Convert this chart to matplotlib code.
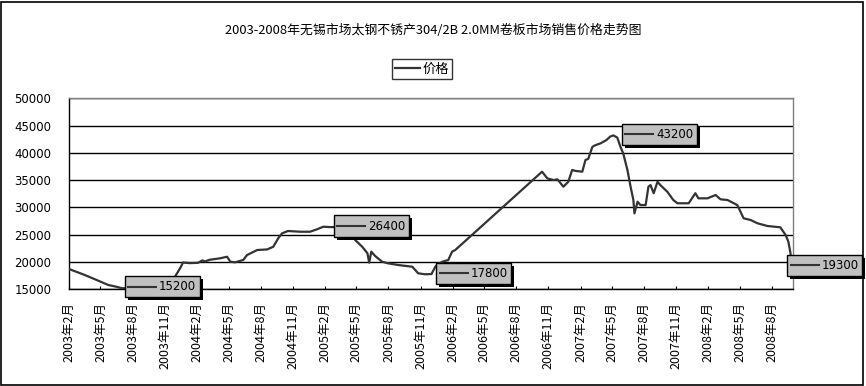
import matplotlib
matplotlib.use("Agg")
import matplotlib.pyplot as plt
import matplotlib.patheffects as pe
from matplotlib.lines import Line2D
from matplotlib.patches import Rectangle
from matplotlib.offsetbox import AnnotationBbox, HPacker, DrawingArea, TextArea
import pandas as pd

plt.rcParams['font.family'] = ['Noto Sans CJK SC', 'DejaVu Sans']

title = "2003-2008年无锡市场太钢不锈产304/2B 2.0MM卷板市场销售价格走势图"
series_name = "价格"
start_date = "2003-02-01"

# days since 2003-02-01 and price (yuan/ton)
day_offsets = [0, 45, 82, 111, 139, 150, 180, 210, 240, 275, 302, 317, 325, 345, 368, 380,
               388, 400, 431, 451, 460, 474, 497, 508, 537, 565, 583, 597, 608, 625, 660,
               688, 708, 726, 745, 770, 795, 809, 817, 837, 852, 857, 863, 874, 894, 911,
               940, 980, 997, 1017, 1035, 1046, 1055, 1066, 1083, 1094, 1103, 1351, 1366,
               1384, 1395, 1412, 1426, 1437, 1446, 1466, 1475, 1483, 1495, 1504, 1518, 1535,
               1546, 1555, 1566, 1575, 1583, 1595, 1604, 1612, 1615, 1624, 1632, 1647, 1655,
               1661, 1670, 1681, 1689, 1709, 1726, 1738, 1770, 1789, 1798, 1824, 1847, 1861,
               1881, 1909, 1927, 1947, 1967, 1995, 2032, 2047, 2055, 2061, 2065]
prices = [18700, 17600, 16600, 15800, 15400, 15200, 15200, 15300, 15800, 16600, 17300, 18900,
          19900, 19800, 19850, 20300, 20100, 20400, 20680, 20970, 20060, 19950, 20370, 21280,
          22200, 22300, 22800, 24340, 25260, 25680, 25550, 25550, 26000, 26470, 26400, 26400,
          26000, 25200, 24030, 22800, 21600, 19880, 21900, 21100, 20060, 19760, 19450, 19140,
          17930, 17750, 17800, 19140, 19700, 20060, 20370, 21900, 22200, 36550, 35330, 35020,
          35150, 33800, 34710, 36860, 36700, 36550, 38690, 38900, 41120, 41430, 41740, 42350,
          43000, 43200, 42800, 41120, 39900, 36860, 33800, 31360, 28920, 31050, 30440, 30440,
          33800, 34100, 32600, 34710, 34100, 32880, 31360, 30760, 30760, 32600, 31670, 31670,
          32280, 31490, 31360, 30440, 28010, 27700, 27090, 26600, 26360, 24950, 23720, 21600,
          19300]

# data labels
label_days = [150, 745, 1035, 1555, 2065]
label_values = [15200, 26400, 17800, 43200, 19300]
label_offsets_px = [(6.5, 1.5), (7.5, 1), (8.5, 0.6), (12, 1), (-1, 0.6)]

tick_months = pd.date_range("2003-02-01", "2008-08-01", freq="3MS")
tick_labels = [f"{d.year}年{d.month}月" for d in tick_months]
y_ticks = [15000, 20000, 25000, 30000, 35000, 40000, 45000, 50000]

start = pd.Timestamp(start_date)
dates = start + pd.to_timedelta(day_offsets, unit="D")
label_dates = start + pd.to_timedelta(label_days, unit="D")

W, H = 866, 386
fig = plt.figure(figsize=(W / 100, H / 100), dpi=100)
fig.patch.set_facecolor("white")
ax = fig.add_axes([69.3 / W, 1 - 289.3 / H, (793.3 - 69.3) / W, (289.3 - 98.3) / H])

line_color = "#333333"
ax.plot(dates.values, prices, color=line_color, lw=1.6, solid_joinstyle="round", zorder=3)

ax.set_xlim(pd.Timestamp("2003-02-01"), pd.Timestamp("2008-10-01"))
ax.set_ylim(15000, 50000)
ax.set_yticks(y_ticks)
ax.set_yticklabels([str(v) for v in y_ticks], fontsize=8.5, family="DejaVu Sans")
ax.set_xticks(tick_months)
ax.set_xticklabels(tick_labels, rotation=90, fontsize=9, va="top", ha="center")
ax.tick_params(axis="y", length=0, pad=13)
ax.tick_params(axis="x", direction="in", length=2.5, width=0.8, pad=9)
ax.grid(axis="y", color="black", lw=1)
ax.set_axisbelow(True)
for s in ["top", "right"]:
    ax.spines[s].set_color("#808080")
for s in ["left", "bottom"]:
    ax.spines[s].set_color("black")
for s in ax.spines.values():
    s.set_linewidth(1)

# data label boxes
for d, v, (dx, dy) in zip(label_dates, label_values, label_offsets_px):
    da = DrawingArea(20, 10, 0, 0)
    da.add_artist(Line2D([0, 20], [5, 5], color=line_color, lw=1.5))
    ta = TextArea(str(v), textprops=dict(fontsize=8.5, color="black", family="DejaVu Sans"))
    pack = HPacker(children=[da, ta], pad=0, sep=2, align="center")
    ab = AnnotationBbox(pack, (d, v), xybox=(dx, dy), xycoords="data",
                        boxcoords="offset pixels", box_alignment=(0, 0.5),
                        frameon=True, annotation_clip=False,
                        bboxprops=dict(facecolor="#c0c0c0", edgecolor="black", lw=1,
                                       boxstyle="square,pad=0.27"))
    ab.patch.set_path_effects([pe.SimplePatchShadow(offset=(2.2, -2.2), shadow_rgbFace="black", alpha=1.0),
                               pe.Normal()])
    ab.set_zorder(5)
    ax.add_artist(ab)

fig.text(433 / W, 1 - 30 / H, title, ha="center", va="center", fontsize=9.3)

handle = Line2D([], [], color=line_color, lw=1.6)
leg = fig.legend([handle], [series_name], loc="center", bbox_to_anchor=(422 / W, 1 - 69 / H),
                 fontsize=9.5, frameon=True, fancybox=False, edgecolor="black",
                 handlelength=1.9, handletextpad=0.2, borderpad=0.25, borderaxespad=0)
leg.get_frame().set_linewidth(1)

fig.add_artist(Rectangle((0.5 / W, 1.5 / H), (863 - 0.5) / W, (385 - 2) / H,
                         transform=fig.transFigure, fill=False, edgecolor="black", lw=1.2))

fig.savefig("out.png", dpi=100)
